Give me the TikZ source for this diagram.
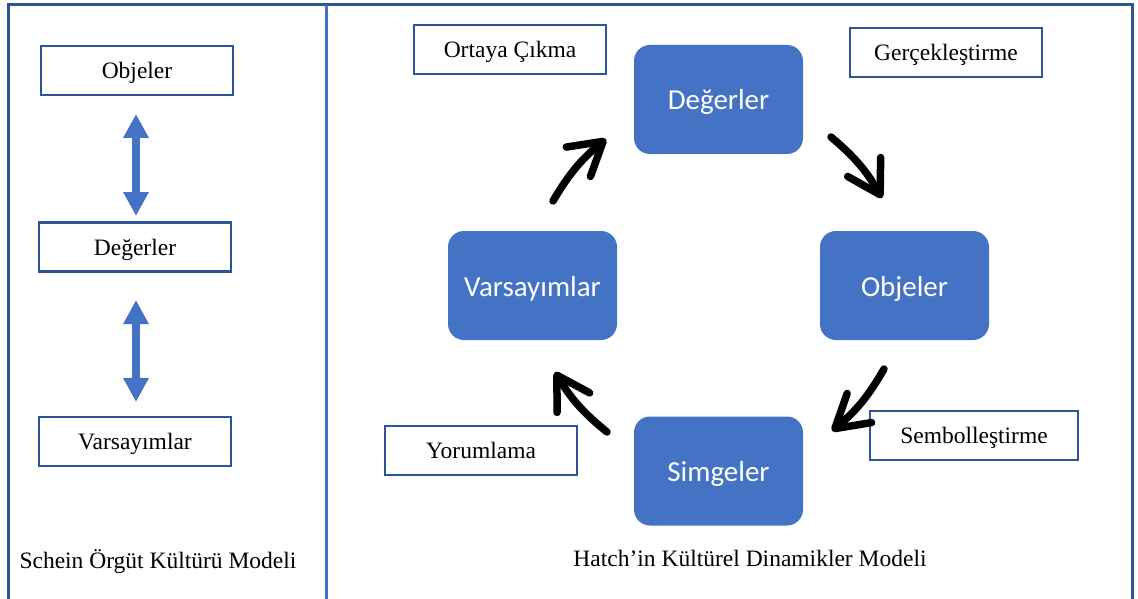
\documentclass[tikz,border=0pt]{standalone}
\usepackage{fontspec}
\setmainfont{Liberation Serif}
\newfontfamily\stagefont{Carlito}
\usetikzlibrary{arrows.meta}
\definecolor{frameblue}{HTML}{2F5597}
\definecolor{fillblue}{HTML}{4472C4}
\begin{document}
\begin{tikzpicture}[x=1pt,y=-1pt,
  labelbox/.style={draw=frameblue, line width=2.5pt, fill=white, minimum width=192pt,
    minimum height=49pt, inner sep=0pt, text height=18pt, text depth=2pt,
    font=\fontsize{23.5}{28}\selectfont},
  stage/.style={fill=fillblue, rounded corners=16pt, minimum width=169pt, minimum height=109pt,
    inner sep=0pt, text=white, text height=23pt, text depth=2pt,
    font=\stagefont\fontsize{29}{34}\selectfont},
  cyc/.style={line width=7.5pt, line cap=round,
    -{Straight Barb[length=32pt,width=38pt,line cap=round,line join=round]}},
  dbl/.style={fillblue, line width=8pt,
    {Triangle[length=24pt,width=24pt]}-{Triangle[length=24pt,width=24pt]}},
  caption/.style={font=\fontsize{23.5}{28}\selectfont}]
\useasboundingbox (0,0) rectangle (1138,599);
\fill[white] (0,0) rectangle (1138,599);

% panel frame
\draw[frameblue, line width=3pt] (8,599) -- (8,5) -- (1132,5) -- (1132,599);
\draw[fillblue, line width=3pt] (326,5) -- (326,599);

% Schein model
\node[labelbox] (sObj) at (137,70.5) {Objeler};
\node[labelbox] (sDeg) at (135,247) {Değerler};
\node[labelbox] (sVar) at (135,441.5) {Varsayımlar};
\coordinate (a1) at (136,114);
\coordinate (a2) at (136,216);
\coordinate (a3) at (136,300);
\coordinate (a4) at (136,402);
\draw[dbl] (a1) -- (a2);
\draw[dbl] (a3) -- (a4);
\node[caption] (sCap) at (158,562) {Schein Örgüt Kültürü Modeli};

% Hatch model
\node[stage] (hDeg) at (718.5,99.5) {Değerler};
\node[stage] (hObj) at (904.5,285.5) {Objeler};
\node[stage] (hVar) at (532.5,285.5) {Varsayımlar};
\node[stage] (hSim) at (718.5,471) {Simgeler};

\node[labelbox] (lOrt) at (510,49.5) {Ortaya Çıkma};
\node[labelbox] (lGer) at (946,52.5) {Gerçekleştirme};
\node[labelbox, minimum width=208pt] (lSem) at (974,435.5) {Sembolleştirme};
\node[labelbox] (lYor) at (481,450.5) {Yorumlama};

\coordinate (c1s) at (553,201);
\coordinate (c1e) at (606,139);
\coordinate (c2s) at (831,137);
\coordinate (c2e) at (882,198);
\coordinate (c3s) at (884,369);
\coordinate (c3e) at (832,431);
\coordinate (c4s) at (607,432);
\coordinate (c4e) at (555,372);
\draw[cyc] (c1s) to[bend left=10] (c1e);
\draw[cyc] (c2s) to[bend left=10] (c2e);
\draw[cyc] (c3s) to[bend left=10] (c3e);
\draw[cyc] (c4s) to[bend left=10] (c4e);

\node[caption] (hCap) at (750,558) {Hatch’in Kültürel Dinamikler Modeli};
\end{tikzpicture}
\end{document}
